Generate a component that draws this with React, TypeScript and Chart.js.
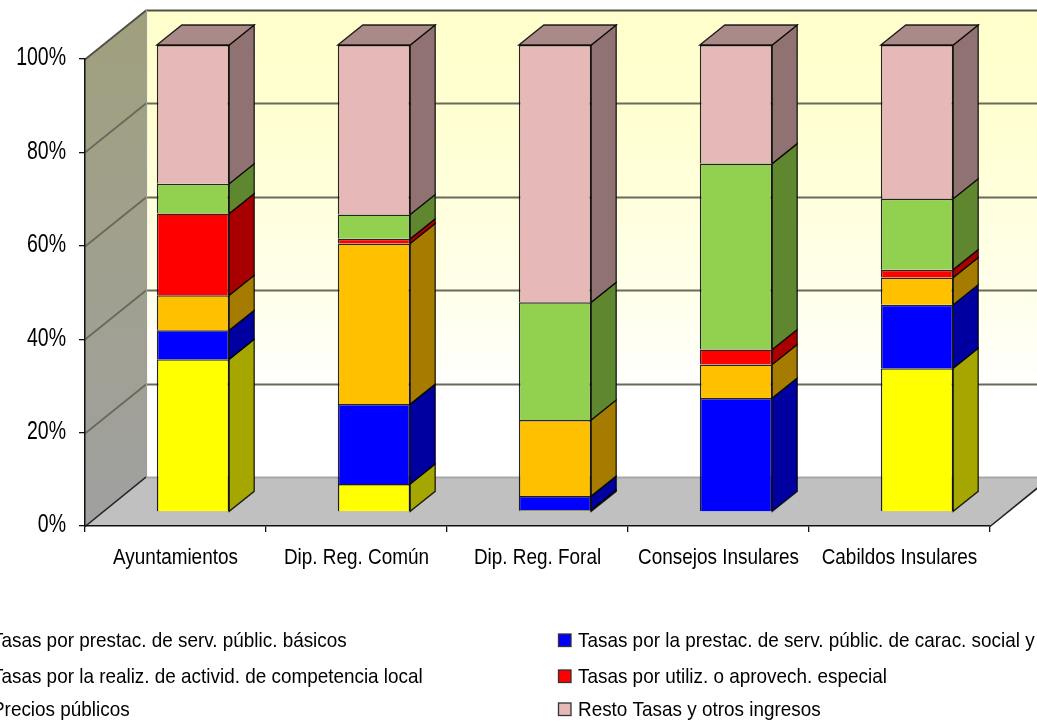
import React, { useEffect, useRef } from "react";
import { Chart, registerables } from "chart.js";

Chart.register(...registerables);

const categories = ["Ayuntamientos", "Dip. Reg. Común", "Dip. Reg. Foral", "Consejos Insulares", "Cabildos Insulares"];
const basicos = [32.7, 6.0, 0.4, 0, 30.8];
const social = [6.2, 17.1, 3.0, 24.4, 13.6];
const actividades = [7.5, 34.4, 16.3, 7.2, 5.8];
const especial = [17.5, 1.0, 0, 3.2, 1.7];
const precios = [6.4, 5.2, 25.2, 39.8, 15.2];
const resto = [29.7, 36.3, 55.1, 25.4, 32.9];
const yTicks = [0, 20, 40, 60, 80, 100];

const FONT = '"Liberation Sans", Arial, sans-serif';
const WALL = { dx: 61, dy: -49 };
const BAR_SHIFT = { dx: 17.5, dy: -14 };
const BAR_DEPTH = { dx: 25, dy: -20 };
const EDGE = "rgba(0,0,0,0.85)";
// horizontal squeeze and vertical nudge of the condensed screen font, per font size
const TEXT_FIT: Record<number, { sx: number; dy: number }> = {
  25: { sx: 0.78, dy: -0.5 },
  22: { sx: 0.86, dy: 0 },
  21: { sx: 0.9, dy: 0 },
};

const sideColors = ["#A6A600", "#0000A0", "#A67C00", "#A80000", "#5F8730", "#907272"];
const topColor = "#AA8A88";

function poly(ctx: CanvasRenderingContext2D, pts: number[][], fill: any, stroke?: string) {
  ctx.beginPath();
  pts.forEach((p, i) => (i ? ctx.lineTo(p[0], p[1]) : ctx.moveTo(p[0], p[1])));
  ctx.closePath();
  ctx.fillStyle = fill;
  ctx.fill();
  if (stroke) {
    ctx.strokeStyle = stroke;
    ctx.lineWidth = 1.3;
    ctx.stroke();
  }
}

const scene = {
  id: "scene3d",
  beforeInit(chart: any) {
    const ctx = chart.ctx;
    const orig = ctx.fillText.bind(ctx);
    ctx.fillText = (s: string, x: number, y: number) => {
      const size = parseInt(ctx.font, 10);
      const fit = TEXT_FIT[size] || { sx: 1, dy: 0 };
      ctx.save();
      ctx.translate(x, y + fit.dy);
      ctx.scale(fit.sx, 1);
      orig(s, 0, 0);
      ctx.restore();
    };
  },
  beforeDraw(chart: any) {
    const { ctx, chartArea: a, scales } = chart;
    const { dx, dy } = WALL;
    ctx.save();
    const bg = ctx.createLinearGradient(0, a.top + dy, 0, a.bottom + dy);
    bg.addColorStop(0, "#FFFFCC");
    bg.addColorStop(0.25, "#FFFFD2");
    bg.addColorStop(0.6, "#FFFFEA");
    bg.addColorStop(0.82, "#FFFFFF");
    bg.addColorStop(1, "#FFFFFF");
    poly(ctx, [[a.left + dx, a.top + dy], [a.right + dx, a.top + dy], [a.right + dx, a.bottom + dy], [a.left + dx, a.bottom + dy]], bg);
    const lw = ctx.createLinearGradient(0, a.top + dy, 0, a.bottom);
    lw.addColorStop(0, "#A0A07E");
    lw.addColorStop(1, "#A0A0A0");
    poly(ctx, [[a.left, a.top], [a.left + dx, a.top + dy], [a.left + dx, a.bottom + dy], [a.left, a.bottom]], lw);
    poly(ctx, [[a.left, a.bottom], [a.right, a.bottom], [a.right + dx, a.bottom + dy], [a.left + dx, a.bottom + dy]], "#C0C0C0");
    ctx.lineWidth = 1.8;
    scales.y.ticks.forEach((t: any) => {
      const y = Math.round(scales.y.getPixelForValue(t.value)) + 0.5;
      ctx.strokeStyle = t.value === 0 ? "#A8A8A8" : t.value === 100 ? "#505048" : "#6A6A5C";
      ctx.beginPath();
      ctx.moveTo(a.left, y);
      ctx.lineTo(a.left + dx, y + dy);
      ctx.lineTo(a.right + dx, y + dy);
      ctx.stroke();
    });
    ctx.lineWidth = 1.2;
    ctx.strokeStyle = "#A0A098";
    ctx.beginPath();
    ctx.moveTo(a.left + dx + 0.5, a.top + dy);
    ctx.lineTo(a.left + dx + 0.5, a.bottom + dy);
    ctx.stroke();
    ctx.lineWidth = 1.6;
    ctx.strokeStyle = "#222";
    ctx.beginPath();
    ctx.moveTo(a.left, a.bottom + 0.5);
    ctx.lineTo(a.left + dx, a.bottom + dy);
    ctx.moveTo(a.right, a.bottom + 0.5);
    ctx.lineTo(a.right + dx, a.bottom + dy);
    ctx.stroke();
    ctx.restore();
  },
  beforeDatasetsDraw(chart: any) {
    const { ctx } = chart;
    ctx.save();
    ctx.translate(BAR_SHIFT.dx, BAR_SHIFT.dy);
    const { dx, dy } = BAR_DEPTH;
    chart.data.datasets.forEach((ds: any, di: number) => {
      chart.getDatasetMeta(di).data.forEach((el: any, i: number) => {
        if (!ds.data[i]) return;
        const { x, y, base, width } = el.getProps(["x", "y", "base", "width"], true);
        const r = x + width / 2;
        const l = x - width / 2;
        poly(ctx, [[r, y], [r + dx, y + dy], [r + dx, base + dy], [r, base]], sideColors[di], EDGE);
        if (di === chart.data.datasets.length - 1) {
          poly(ctx, [[l, y], [l + dx, y + dy], [r + dx, y + dy], [r, y]], topColor, EDGE);
        }
      });
    });
  },
  afterDatasetsDraw(chart: any) {
    chart.ctx.restore();
  },
  afterDraw(chart: any) {
    const { ctx } = chart;
    const columns = [-28, 558];
    const rows = [641, 677, 710];
    ctx.save();
    ctx.font = `21px ${FONT}`;
    ctx.textBaseline = "middle";
    ctx.textAlign = "left";
    chart.data.datasets.forEach((ds: any, i: number) => {
      const cx = columns[i % 2];
      const cy = rows[Math.floor(i / 2)];
      ctx.fillStyle = ds.backgroundColor;
      ctx.strokeStyle = "#333";
      ctx.lineWidth = 1.3;
      ctx.fillRect(cx + 0.5, cy - 7, 12.5, 12.5);
      ctx.strokeRect(cx + 0.5, cy - 7, 12.5, 12.5);
      ctx.fillStyle = "#000";
      ctx.fillText(ds.label, cx + 20, cy);
    });
    ctx.restore();
  },
};

export default function App() {
  const ref = useRef<HTMLCanvasElement>(null);
  useEffect(() => {
    const make = (label: string, data: number[], backgroundColor: string) => ({
      label,
      data,
      backgroundColor,
      borderColor: EDGE,
      borderWidth: 1.5,
      barPercentage: 0.4,
      categoryPercentage: 1,
      clip: false,
    });
    const chart = new Chart(ref.current!, {
      type: "bar",
      data: {
        labels: categories,
        datasets: [
          make("Tasas por prestac. de serv. públic. básicos", basicos, "#FFFF00"),
          make("Tasas por la prestac. de serv. públic. de carac. social y", social, "#0000FF"),
          make("Tasas por la realiz. de activid. de competencia local", actividades, "#FFC000"),
          make("Tasas por utiliz. o aprovech. especial", especial, "#FF0000"),
          make("Precios públicos", precios, "#92D050"),
          make("Resto Tasas y otros ingresos", resto, "#E6B8B7"),
        ],
      },
      options: {
        animation: false,
        responsive: false,
        devicePixelRatio: 1,
        layout: { padding: { top: 59, right: 47, left: 0, bottom: 0 } },
        plugins: { legend: { display: false }, tooltip: { enabled: false }, title: { display: false } },
        scales: {
          x: {
            stacked: true,
            afterFit: (s: any) => { s.height = 722 - 526; },
            grid: { drawOnChartArea: false, tickLength: 6, color: "#111", lineWidth: 1.3 },
            border: { color: "#111", width: 1.5 },
            ticks: { color: "#000", font: { family: FONT, size: 22 }, padding: 13, maxRotation: 0, autoSkip: false },
          },
          y: {
            stacked: true,
            min: 0,
            max: 100,
            afterFit: (s: any) => { s.width = 85; },
            afterBuildTicks: (s: any) => { s.ticks = yTicks.map((value) => ({ value })); },
            grid: { drawOnChartArea: false, tickLength: 6, color: "#111", lineWidth: 1.3 },
            border: { color: "#111", width: 1.5 },
            ticks: { color: "#000", font: { family: FONT, size: 25 }, padding: 13, callback: (v: any) => `${v}%` },
          },
        },
      },
      plugins: [scene],
    } as any);
    return () => chart.destroy();
  }, []);
  return (
    <div style={{ position: "fixed", left: 0, top: 0, width: 1037, height: 722, background: "#fff", overflow: "hidden" }}>
      <canvas ref={ref} width={1037} height={722} style={{ display: "block", filter: "blur(0.55px)" }} />
    </div>
  );
}
